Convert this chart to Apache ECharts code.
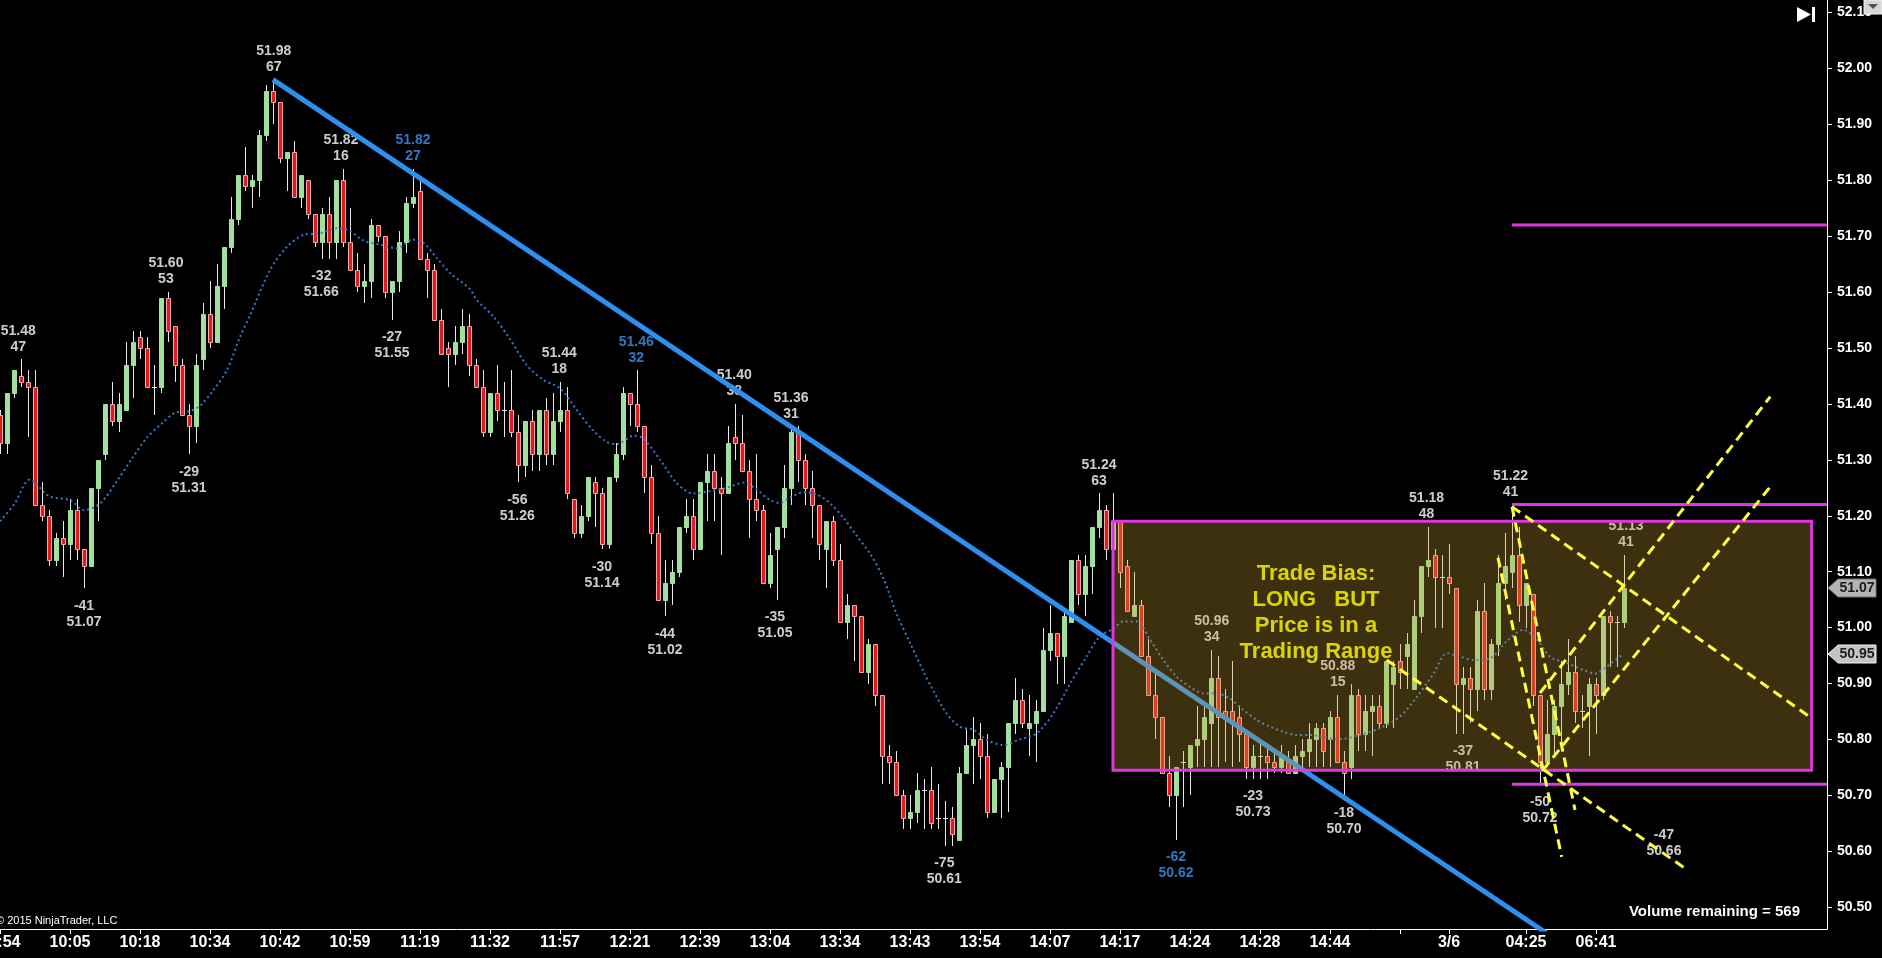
<!DOCTYPE html>
<html><head><meta charset="utf-8">
<script src="https://cdn.jsdelivr.net/npm/echarts@6/dist/echarts.min.js"></script>
<style>html,body{margin:0;padding:0;background:#000;overflow:hidden}#c{width:1882px;height:958px}</style>
</head><body><div id="c"></div>
<script>
// ---------------- DATA ----------------
const opens = [51.38,51.33,51.42,51.45,51.44,51.43,51.22,51.20,51.12,51.16,51.15,51.21,51.14,51.11,51.25,51.31,51.40,51.37,51.39,51.47,
51.52,51.50,51.43,51.43,51.59,51.54,51.47,51.38,51.36,51.48,51.56,51.51,51.61,51.68,51.73,51.81,51.79,51.80,51.88,51.96,
51.94,51.84,51.85,51.77,51.80,51.74,51.69,51.74,51.69,51.80,51.69,51.64,51.61,51.62,51.72,51.70,51.60,51.62,51.69,51.76,
51.78,51.66,51.64,51.55,51.50,51.49,51.51,51.54,51.47,51.43,51.35,51.42,51.39,51.39,51.35,51.29,51.37,51.31,51.39,51.31,
51.37,51.39,51.23,51.17,51.20,51.26,51.24,51.15,51.27,51.31,51.42,51.40,51.36,51.27,51.17,51.05,51.08,51.10,51.18,51.20,
51.14,51.26,51.28,51.25,51.24,51.34,51.33,51.28,51.23,51.21,51.08,51.14,51.18,51.25,51.35,51.30,51.25,51.22,51.14,51.19,
51.12,51.01,51.04,51.02,50.92,50.97,50.88,50.77,50.76,50.70,50.66,50.67,50.71,50.71,50.66,50.66,50.66,50.62,50.74,50.79,
50.80,50.77,50.67,50.73,50.75,50.83,50.87,50.82,50.83,50.85,50.96,50.99,50.95,51.01,51.12,51.06,51.11,51.18,51.21,51.14,
51.19,51.11,51.02,51.04,50.95,50.88,50.84,50.74,50.70,50.76,50.75,50.79,50.80,50.83,50.91,50.85,50.85,50.84,50.81,50.75,
50.77,50.77,50.76,50.75,50.76,50.74,50.77,50.78,50.80,50.82,50.80,50.84,50.76,50.75,50.88,50.81,50.85,50.86,50.83,50.90,
50.94,50.95,50.89,51.02,51.11,51.13,51.09,51.09,51.07,50.90,50.91,50.89,51.03,50.89,50.97,51.08,51.10,51.13,51.04,51.06,
50.88,50.76,50.81,50.86,50.90,50.92,50.85,50.86,50.90,50.88,51.02,51.01,51.01];
const closes = [51.33,51.42,51.46,51.44,51.43,51.22,51.20,51.12,51.16,51.15,51.21,51.14,51.11,51.25,51.30,51.40,51.37,51.40,51.47,51.51,
51.50,51.43,51.43,51.59,51.53,51.47,51.38,51.36,51.47,51.56,51.51,51.61,51.68,51.73,51.81,51.79,51.80,51.88,51.96,51.94,
51.84,51.85,51.77,51.81,51.74,51.69,51.74,51.69,51.80,51.69,51.64,51.61,51.62,51.72,51.70,51.60,51.62,51.69,51.76,51.77,
51.66,51.64,51.55,51.49,51.49,51.51,51.54,51.47,51.43,51.35,51.42,51.39,51.39,51.35,51.29,51.37,51.31,51.39,51.31,51.37,
51.39,51.24,51.17,51.20,51.27,51.24,51.15,51.27,51.31,51.42,51.40,51.36,51.27,51.17,51.05,51.08,51.10,51.18,51.20,51.14,
51.26,51.28,51.25,51.24,51.33,51.33,51.28,51.23,51.21,51.08,51.13,51.18,51.25,51.35,51.30,51.25,51.22,51.15,51.19,51.12,
51.01,51.04,51.02,50.92,50.97,50.88,50.77,50.76,50.70,50.66,50.67,50.71,50.71,50.65,50.66,50.66,50.63,50.74,50.79,50.80,
50.77,50.67,50.73,50.75,50.83,50.87,50.83,50.83,50.85,50.96,50.99,50.95,51.02,51.12,51.06,51.11,51.18,51.21,51.14,51.19,
51.10,51.03,51.04,50.95,50.88,50.84,50.74,50.70,50.75,50.76,50.79,50.80,50.84,50.91,50.84,50.84,50.83,50.81,50.75,50.77,
50.77,50.76,50.75,50.77,50.74,50.77,50.78,50.80,50.82,50.78,50.84,50.76,50.74,50.88,50.81,50.85,50.86,50.83,50.94,50.93,
50.92,50.97,51.02,51.11,51.12,51.09,51.09,51.08,50.90,50.91,50.89,51.03,50.89,50.97,51.08,51.11,51.13,51.04,51.08,50.88,
50.76,50.81,50.86,50.90,50.92,50.85,50.85,50.90,50.88,51.02,51.01,51.01,51.07];
const lows = [51.31,51.31,51.41,51.43,51.34,51.22,51.19,51.11,51.11,51.09,51.12,51.12,51.07,51.11,51.19,51.30,51.36,51.35,51.39,51.41,
51.48,51.43,51.38,51.42,51.51,51.44,51.38,51.31,51.33,51.46,51.50,51.51,51.57,51.67,51.72,51.78,51.75,51.77,51.87,51.90,
51.83,51.78,51.77,51.75,51.73,51.68,51.66,51.66,51.66,51.68,51.64,51.60,51.58,51.59,51.69,51.59,51.55,51.60,51.67,51.75,
51.66,51.59,51.55,51.49,51.43,51.47,51.49,51.45,51.43,51.34,51.34,51.37,51.34,51.34,51.26,51.27,51.28,51.28,51.29,51.29,
51.35,51.23,51.16,51.16,51.19,51.18,51.14,51.14,51.26,51.30,51.36,51.35,51.24,51.15,51.05,51.02,51.04,51.09,51.17,51.12,
51.14,51.19,51.19,51.13,51.24,51.30,51.28,51.16,51.19,51.08,51.07,51.05,51.16,51.22,51.26,51.22,51.16,51.12,51.07,51.11,
51.01,50.98,50.94,50.92,50.90,50.86,50.72,50.72,50.70,50.64,50.64,50.65,50.64,50.64,50.64,50.61,50.61,50.62,50.74,50.72,
50.73,50.66,50.67,50.66,50.67,50.81,50.82,50.77,50.76,50.85,50.94,50.90,50.90,51.01,51.04,51.02,51.06,51.16,51.12,51.14,
51.07,51.03,51.02,50.95,50.88,50.80,50.74,50.68,50.62,50.68,50.70,50.75,50.75,50.75,50.75,50.76,50.75,50.76,50.73,50.73,
50.73,50.73,50.74,50.74,50.74,50.74,50.75,50.75,50.75,50.75,50.75,50.76,50.70,50.73,50.78,50.78,50.77,50.82,50.82,50.82,
50.89,50.89,50.89,50.99,51.09,51.00,51.00,51.06,50.81,50.81,50.83,50.85,50.87,50.87,50.95,51.05,51.07,51.01,51.00,50.86,
50.72,50.75,50.77,50.79,50.88,50.83,50.82,50.77,50.81,50.87,50.93,50.93,51.00];
const highs = [51.39,51.42,51.46,51.48,51.46,51.46,51.26,51.21,51.17,51.19,51.23,51.23,51.14,51.25,51.30,51.40,51.44,51.42,51.51,51.53,
51.53,51.52,51.47,51.59,51.60,51.54,51.48,51.40,51.49,51.58,51.62,51.65,51.68,51.77,51.81,51.86,51.81,51.89,51.97,51.98,
51.94,51.85,51.87,51.81,51.80,51.74,51.75,51.77,51.80,51.82,51.75,51.67,51.65,51.73,51.72,51.70,51.62,51.71,51.77,51.82,
51.80,51.67,51.65,51.57,51.51,51.54,51.57,51.56,51.48,51.46,51.42,51.47,51.44,51.46,51.38,51.37,51.39,51.39,51.41,51.42,
51.44,51.43,51.23,51.22,51.27,51.27,51.25,51.27,51.33,51.43,51.42,51.46,51.36,51.29,51.20,51.12,51.12,51.18,51.23,51.23,
51.26,51.31,51.31,51.27,51.36,51.40,51.38,51.30,51.31,51.22,51.17,51.18,51.29,51.36,51.36,51.31,51.28,51.22,51.19,51.20,
51.15,51.06,51.04,51.02,50.98,50.97,50.88,50.79,50.78,50.71,50.70,50.74,50.73,50.75,50.72,50.69,50.68,50.75,50.82,50.84,
50.83,50.81,50.73,50.76,50.83,50.91,50.89,50.88,50.87,51.00,51.04,50.99,51.03,51.12,51.13,51.13,51.18,51.24,51.22,51.24,
51.19,51.12,51.10,51.05,50.98,50.92,50.84,50.77,50.75,50.78,50.79,50.86,50.86,50.96,50.95,50.89,50.94,50.86,50.81,50.79,
50.80,50.79,50.78,50.79,50.78,50.79,50.80,50.83,50.83,50.83,50.85,50.88,50.78,50.90,50.89,50.88,50.88,50.88,50.94,50.94,
50.97,50.99,51.05,51.11,51.18,51.14,51.13,51.15,51.07,50.93,50.93,51.05,51.08,50.98,51.13,51.17,51.22,51.18,51.08,51.06,
50.88,50.87,50.87,50.94,50.98,50.95,50.88,50.91,50.91,51.02,51.03,51.02,51.13];

// dotted average line: [bar, price]
const emaPoints = [[0,51.19],[2,51.22],[4.3,51.265],[7,51.235],[10,51.228],[12,51.21],[14.3,51.222],[16.7,51.262],[19,51.305],[21,51.34],
[23.3,51.367],[25,51.384],[27,51.387],[28.6,51.397],[30.5,51.425],[32.4,51.46],[34.3,51.52],[35.7,51.558],[38.6,51.64],[41,51.681],
[43.3,51.702],[45.7,51.705],[48.1,51.714],[50,51.709],[51.9,51.692],[54.3,51.685],[56.7,51.678],[59,51.694],[60.5,51.688],[62.4,51.661],
[64.3,51.634],[67.1,51.606],[68.1,51.586],[70.5,51.556],[72.8,51.517],[75.2,51.47],[77.6,51.443],[80,51.428],[82.4,51.389],[84.7,51.353],
[86.7,51.332],[88.1,51.328],[90.5,51.343],[91.9,51.338],[94.3,51.30],[96.7,51.258],[99,51.24],[101.4,51.244],[103.8,51.25],[106.2,51.259],
[108.1,51.247],[110,51.228],[111.4,51.223],[112.9,51.233],[114.8,51.242],[116.7,51.238],[118.6,51.222],[120.5,51.196],[122.4,51.164],[124.3,51.132],
[126.2,51.088],[128.1,51.024],[130,50.973],[131.9,50.922],[133.3,50.888],[135.2,50.847],[137.1,50.823],[139.1,50.817],[141,50.799],[143.3,50.79],
[145.7,50.80],[148.1,50.811],[150.5,50.847],[152.9,50.90],[155.2,50.948],[157.1,50.984],[159,50.998],[160.5,51.011],[162.4,51.011],[164.3,50.978],
[166.2,50.942],[168.1,50.912],[170,50.894],[171.9,50.882],[173.8,50.882],[175.7,50.873],[177.6,50.853],[179.5,50.835],[181.4,50.823],[183.3,50.814],
[185.2,50.808],[187.1,50.808],[189,50.805],[191,50.80],[194.3,50.808],[197.1,50.82],[200,50.841],[202.4,50.876],[204.8,50.918],[206.7,50.954],
[208.6,50.948],[210.5,50.942],[212.9,50.945],[215.2,50.975],[217.6,50.996],[219.5,50.98],[221.4,50.948],[223.8,50.937],[226.2,50.924],[227.9,50.918],
[229.5,50.93],[231.9,50.953]];

// x-axis ticks (bar index) and their labels
const tickBars = [0,10,20,30,40,50,60,70,80,90,100,110,120,130,140,150,160,170,180,190,200,207,218,228];
const tickLabels = ['09:54','10:05','10:18','10:34','10:42','10:59','11:19','11:32','11:57','12:21','12:39','13:04','13:34','13:43','13:54','14:07','14:17','14:24','14:28','14:44','','3/6','04:25','06:41'];

// swing labels: [bar, price, count, blue?]
const swingHighs = [[2.6,51.48,47,0],[23.7,51.60,53,0],[39.1,51.98,67,0],[48.7,51.82,16,0],[59,51.82,27,1],[79.9,51.44,18,0],[90.9,51.46,32,1],
[104.9,51.40,38,0],[113,51.36,31,0],[157,51.24,63,0],[173.1,50.96,34,0],[191.1,50.88,15,0],[203.8,51.18,48,0],[215.8,51.22,41,0],[232.3,51.13,41,0]];
const swingLows = [[12,51.07,-41,0],[27,51.31,-29,0],[45.9,51.66,-32,0],[56,51.55,-27,0],[73.9,51.26,-56,0],[86,51.14,-30,0],[95,51.02,-44,0],
[110.7,51.05,-35,0],[134.9,50.61,-75,0],[168,50.62,-62,1],[179,50.73,-23,0],[192,50.70,-18,0],[209,50.81,-37,0],[220,50.72,-50,0],[237.7,50.66,-47,0]];

// drawn objects: [bar1, price1, bar2, price2]
const blueTrend = [[39,51.98],[221,50.453]];
const rangeBox = [159, 258.8, 50.745, 51.19];
const magentaLines = [[216,51.72,261,51.72],[216,51.22,261,51.22],[216,50.72,261,50.72]];
const yellowLines = [[198.1,50.942,241.0,50.567],[216,51.216,258.8,50.838],[214,51.125,223.1,50.590],[216,51.216,225,50.674],
[220,50.883,252.9,51.413],[220.4,50.745,252.9,51.252]];
const tradeBiasPos = [188, 51.026];
const tradeBiasText = 'Trade Bias:\nLONG   BUT\nPrice is in a\nTrading Range';
const volumeRemaining = 569;

// ---------------- CHART ----------------
const NB = 262; // bar slots on x axis
const FONT = 'Liberation Sans, Arial, sans-serif';
const NARROW = 'Liberation Sans Narrow, Arial Narrow, Liberation Sans, sans-serif';
const tickMap = {};
tickBars.forEach((b, i) => tickMap[b] = tickLabels[i]);
const cats = [];
for (let i = 0; i < NB; i++) cats.push(String(i));

const candleData = opens.map((o, i) => [i, o, closes[i], lows[i], highs[i]]);

function renderCandle(params, api) {
  const i = api.value(0), o = api.value(1), c = api.value(2), l = api.value(3), h = api.value(4);
  const x = Math.round(api.coord([i, o])[0]);
  const yo = api.coord([i, o])[1], yc = api.coord([i, c])[1];
  const yl = api.coord([i, l])[1], yh = api.coord([i, h])[1];
  const children = [{type: 'line', shape: {x1: x + 0.5, y1: Math.round(yh), x2: x + 0.5, y2: Math.round(yl)}, style: {stroke: '#e8e8e8', lineWidth: 1}}];
  if (Math.abs(yo - yc) < 1.5) {
    const yy = Math.round(yo) + 0.5;
    children.push({type: 'line', shape: {x1: x - 2, y1: yy, x2: x + 3, y2: yy}, style: {stroke: '#e8e8e8', lineWidth: 1}});
  } else {
    const up = c > o;
    const top = Math.round(Math.min(yo, yc)), bot = Math.round(Math.max(yo, yc));
    children.push({type: 'rect', shape: {x: x - 1.5, y: top + 0.5, width: 4, height: bot - top},
      style: {fill: up ? '#a2e09e' : '#e31b1b', stroke: up ? '#a2e09e' : '#f4aaaa', lineWidth: 1}});
  }
  return {type: 'group', children: children};
}

function renderSeg(color, dash, width) {
  return function (params, api) {
    const p1 = api.coord([api.value(0), api.value(1)]);
    const p2 = api.coord([api.value(2), api.value(3)]);
    return {type: 'line', shape: {x1: p1[0], y1: p1[1], x2: p2[0], y2: p2[1]},
      style: {stroke: color, lineWidth: width, lineDash: dash}};
  };
}

function renderBox(params, api) {
  const p1 = api.coord([api.value(0), api.value(3)]);
  const p2 = api.coord([api.value(1), api.value(2)]);
  return {type: 'rect', shape: {x: p1[0], y: p1[1], width: p2[0] - p1[0], height: p2[1] - p1[1]},
    style: {fill: 'rgba(203,160,47,0.30)', stroke: '#e234e2', lineWidth: 3}};
}

const highLabelData = swingHighs.map(s => ({value: [s[0], s[1]], label: {position: 'top', distance: 4,
  color: s[3] ? '#3c96f0' : '#ffffff', formatter: s[1].toFixed(2) + '\n' + s[2]}}));
const lowLabelData = swingLows.map(s => ({value: [s[0], s[1]], label: {position: 'bottom', distance: 9,
  color: s[3] ? '#3c96f0' : '#ffffff', formatter: s[2] + '\n' + s[1].toFixed(2)}}));

const chart = echarts.init(document.getElementById('c'), null, {renderer: 'canvas', width: 1882, height: 958});
const option = {
  backgroundColor: '#000000',
  animation: false,
  grid: {left: 0, right: 55, top: 0, bottom: 29, containLabel: false, outerBoundsMode: 'none'},
  xAxis: [
    {type: 'category', data: cats, boundaryGap: false, position: 'bottom',
      axisLine: {show: true, onZero: false, lineStyle: {color: '#ffffff', width: 1}},
      axisTick: {show: true, length: 5, interval: (idx) => tickMap[idx] !== undefined, lineStyle: {color: '#ffffff'}},
      axisLabel: {show: true, interval: (idx) => tickMap[idx] !== undefined, formatter: (v, idx) => tickMap[idx] || '',
        color: '#ffffff', fontFamily: NARROW, fontWeight: 'bold', fontSize: 16, margin: 6},
      splitLine: {show: false}},
    {type: 'value', min: 0, max: NB - 1, show: false, axisLine: {onZero: false}}
  ],
  yAxis: {type: 'value', position: 'right', min: 50.461, max: 52.1223, minInterval: 0.1, maxInterval: 0.1,
    axisLine: {show: true, onZero: false, lineStyle: {color: '#ffffff', width: 1}},
    axisTick: {show: true, length: 5, lineStyle: {color: '#ffffff'}},
    axisLabel: {show: true, showMinLabel: false, showMaxLabel: false, margin: 10, color: '#ffffff', fontFamily: FONT, fontWeight: 'bold', fontSize: 14,
      formatter: v => v.toFixed(2)},
    splitLine: {show: false}},
  series: [
    {type: 'custom', name: 'candles', xAxisIndex: 1, renderItem: renderCandle, data: candleData, clip: true, z: 2,
      encode: {x: 0, y: [1, 2, 3, 4]}},
    {type: 'line', name: 'avg', xAxisIndex: 1, data: emaPoints, showSymbol: false, smooth: 0.3, z: 3,
      lineStyle: {color: '#3479d0', width: 2, type: [2, 3]}},
    {type: 'scatter', xAxisIndex: 1, data: highLabelData, symbolSize: 1, itemStyle: {color: 'rgba(0,0,0,0)'}, z: 4,
      label: {show: true, fontFamily: FONT, fontWeight: 'bold', fontSize: 14, lineHeight: 16, align: 'center'}},
    {type: 'scatter', xAxisIndex: 1, data: lowLabelData, symbolSize: 1, itemStyle: {color: 'rgba(0,0,0,0)'}, z: 4,
      label: {show: true, fontFamily: FONT, fontWeight: 'bold', fontSize: 14, lineHeight: 16, align: 'center'}},
    {type: 'line', name: 'trend', xAxisIndex: 1, data: blueTrend, showSymbol: false, clip: true, z: 5,
      lineStyle: {color: '#2e8ff0', width: 5}},
    {type: 'custom', xAxisIndex: 1, renderItem: renderBox, data: [rangeBox], clip: false, z: 6},
    {type: 'custom', xAxisIndex: 1, renderItem: renderSeg('#e234e2', null, 3), data: magentaLines, clip: true, z: 7},
    {type: 'custom', xAxisIndex: 1, renderItem: renderSeg('#ffff3c', [10, 6], 3), data: yellowLines, clip: true, z: 8},
    {type: 'scatter', xAxisIndex: 1, data: [tradeBiasPos], symbolSize: 1, itemStyle: {color: 'rgba(0,0,0,0)'}, z: 9,
      label: {show: true, position: 'inside', formatter: tradeBiasText, color: '#ffff00', fontFamily: FONT, fontWeight: 'bold',
        fontSize: 22, lineHeight: 26, align: 'center'}}
  ]
};
chart.setOption(option);

const lastPrice = closes[closes.length - 1];
const lastAvg = emaPoints[emaPoints.length - 1][1];
function tag(price, fill, stroke) {
  const y = Math.round(chart.convertToPixel({yAxisIndex: 0}, price));
  return [
    {type: 'polygon', z: 100, shape: {points: [[1828, y], [1838, y - 9], [1876, y - 9], [1876, y + 9], [1838, y + 9]]},
      style: {fill: fill, stroke: stroke, lineWidth: 1}},
    {type: 'text', z: 101, x: 1857, y: y, style: {text: price.toFixed(2), fill: '#1a1a1a', font: 'bold 14px ' + FONT,
      textAlign: 'center', textVerticalAlign: 'middle'}}
  ];
}
chart.setOption({
  graphic: [].concat(
    tag(lastPrice, '#b4b4b4', '#707070'),
    tag(lastAvg, '#c4c4c4', '#f0f0f0'),
    [
      {type: 'text', z: 100, left: -4, top: 915, style: {text: '\u00a9 2015 NinjaTrader, LLC', fill: '#ffffff', font: '11px ' + NARROW}},
      {type: 'text', z: 100, x: 1800, y: 912, style: {text: 'Volume remaining = ' + volumeRemaining, fill: '#ffffff',
        font: 'bold 15px ' + NARROW, textAlign: 'right', textVerticalAlign: 'middle'}},
      {type: 'polygon', z: 100, shape: {points: [[1797, 7], [1811, 14.5], [1797, 22]]}, style: {fill: '#ffffff'}},
      {type: 'rect', z: 100, shape: {x: 1812, y: 7, width: 3, height: 15}, style: {fill: '#ffffff'}},
      {type: 'rect', z: 100, shape: {x: 1864, y: 0, width: 18, height: 14}, style: {fill: '#d6d6d6', stroke: '#f4f4f4', lineWidth: 1}},
      {type: 'polygon', z: 101, shape: {points: [[1868, 4], [1878, 4], [1873, 9]]}, style: {fill: '#505050'}}
    ])
});
</script>
</body></html>
